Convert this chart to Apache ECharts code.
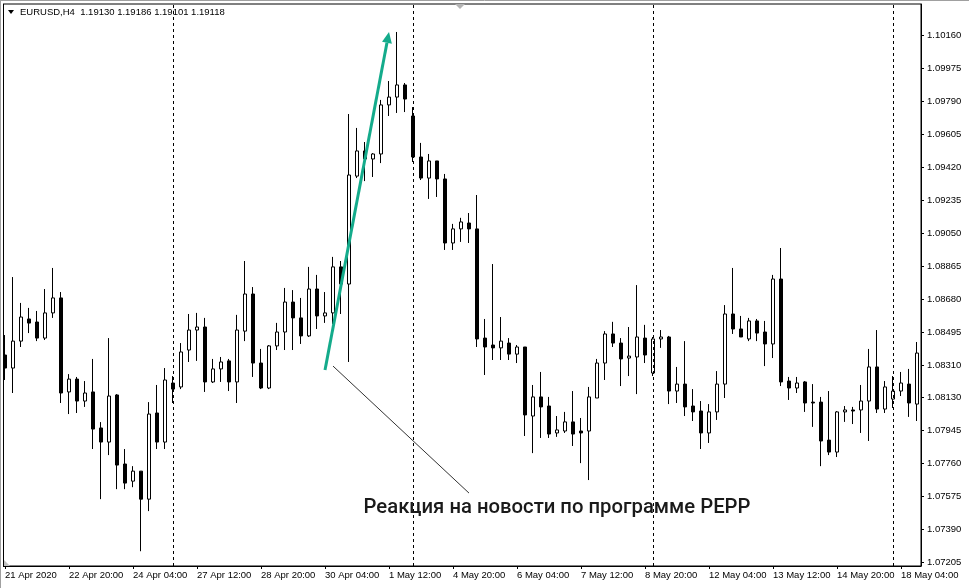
<!DOCTYPE html>
<html><head><meta charset="utf-8">
<script src="https://cdn.jsdelivr.net/npm/echarts@6/dist/echarts.min.js"></script>
<style>html,body{margin:0;padding:0;background:#fff;overflow:hidden}#c{width:969px;height:588px}</style>
</head><body><div id="c"></div>
<script>
// ---- data ----
const tradingDays = ['21 Apr','22 Apr','23 Apr','24 Apr','27 Apr','28 Apr','29 Apr','30 Apr','1 May','4 May','5 May','6 May','7 May','8 May','11 May','12 May','13 May','14 May','15 May','18 May'];
const sessionHours = ['00:00','04:00','08:00','12:00','16:00','20:00'];
const firstBarHour = 3;   // 21 Apr 12:00
const lastBarHour = 3;    // 18 May 12:00

const openPrices = [1.08366,1.08293,1.08444,1.08568,1.08551,1.08461,1.08602,1.08686,1.08159,1.08231,
1.08108,1.08159,1.07957,1.07878,1.08142,1.07755,1.07659,1.07715,1.07558,1.08041,
1.07878,1.08209,1.08187,1.08394,1.08506,1.08523,1.08215,1.08288,1.08333,1.08215,
1.08500,1.08708,1.08321,1.08181,1.08417,1.08495,1.08663,1.08574,1.08473,1.08736,
1.08585,1.08602,1.08860,1.08764,1.09369,1.09510,1.09465,1.09493,1.09768,1.09812,
1.09880,1.09706,1.09476,1.09358,1.09454,1.09353,1.08994,1.09073,1.09106,1.09073,
1.08461,1.08422,1.08406,1.08433,1.08371,1.08411,1.08024,1.08131,1.08080,1.07929,
1.07940,1.07991,1.07940,1.07940,1.08125,1.08321,1.08484,1.08433,1.08349,1.08355,
1.08461,1.08265,1.08456,1.08467,1.08164,1.08203,1.08080,1.08052,1.07929,1.08047,
1.08203,1.08596,1.08512,1.08456,1.08557,1.08495,1.08428,1.08792,1.08220,1.08181,
1.08215,1.08102,1.08102,1.07889,1.07822,1.08047,1.08058,1.08058,1.08108,1.08299,
1.08063,1.08119,1.08164,1.08203,1.08091];
const highPrices = [1.08478,1.08803,1.08658,1.08630,1.08613,1.08736,1.08854,1.08719,1.08259,1.08243,
1.08220,1.08344,1.07990,1.08461,1.08147,1.07839,1.07743,1.07715,1.08102,1.08198,
1.08293,1.08248,1.08433,1.08596,1.08602,1.08574,1.08344,1.08355,1.08344,1.08591,
1.08893,1.08747,1.08400,1.08422,1.08546,1.08742,1.08730,1.08686,1.08860,1.08815,
1.08719,1.08916,1.08893,1.09717,1.09639,1.09560,1.09498,1.09796,1.09902,1.10177,
1.09891,1.09756,1.09555,1.09493,1.09454,1.09381,1.09101,1.09135,1.09162,1.09263,
1.08568,1.08876,1.08579,1.08461,1.08422,1.08411,1.08198,1.08271,1.08131,1.08024,
1.08047,1.08164,1.08013,1.08187,1.08344,1.08500,1.08552,1.08461,1.08523,1.08758,
1.08535,1.08467,1.08506,1.08473,1.08299,1.08444,1.08175,1.08108,1.08091,1.08276,
1.08646,1.08854,1.08585,1.08574,1.08568,1.08557,1.08815,1.08966,1.08243,1.08243,
1.08220,1.08203,1.08131,1.08164,1.08052,1.08080,1.08075,1.08198,1.08400,1.08506,
1.08220,1.08248,1.08271,1.08288,1.08439];
const lowPrices = [1.08226,1.08153,1.08411,1.08489,1.08444,1.08450,1.08574,1.08097,1.08035,1.08041,
1.08075,1.07839,1.07558,1.07805,1.07614,1.07614,1.07625,1.07266,1.07491,1.07839,
1.07839,1.08097,1.08175,1.08327,1.08333,1.08159,1.08209,1.08215,1.08164,1.08097,
1.08444,1.08243,1.08175,1.08175,1.08394,1.08394,1.08394,1.08428,1.08467,1.08512,
1.08546,1.08540,1.08596,1.08327,1.09358,1.09341,1.09364,1.09442,1.09706,1.09723,
1.09728,1.09448,1.09347,1.09241,1.09252,1.08955,1.08955,1.09000,1.08994,1.08411,
1.08254,1.08338,1.08338,1.08338,1.08321,1.07912,1.07816,1.07901,1.07901,1.07907,
1.07929,1.07856,1.07760,1.07665,1.08125,1.08226,1.08411,1.08192,1.08248,1.08147,
1.08321,1.08248,1.08406,1.08091,1.08097,1.08024,1.07996,1.07839,1.07873,1.08002,
1.08125,1.08484,1.08467,1.08444,1.08444,1.08304,1.08349,1.08192,1.08114,1.08153,
1.08047,1.07963,1.07743,1.07805,1.07794,1.07991,1.07979,1.07929,1.07884,1.08041,
1.08041,1.08069,1.08136,1.08019,1.07996];
const closePrices = [1.08293,1.08444,1.08579,1.08545,1.08461,1.08602,1.08686,1.08153,1.08231,1.08108,
1.08153,1.07951,1.07878,1.08136,1.07749,1.07648,1.07715,1.07558,1.08035,1.07878,
1.08226,1.08175,1.08383,1.08506,1.08523,1.08215,1.08288,1.08327,1.08215,1.08506,
1.08708,1.08321,1.08181,1.08417,1.08495,1.08663,1.08574,1.08473,1.08736,1.08585,
1.08602,1.08860,1.08764,1.09375,1.09510,1.09465,1.09493,1.09768,1.09812,1.09880,
1.09801,1.09476,1.09358,1.09454,1.09353,1.08994,1.09073,1.09112,1.09073,1.08456,
1.08411,1.08406,1.08444,1.08371,1.08411,1.08030,1.08131,1.08075,1.07923,1.07946,
1.07991,1.07923,1.07929,1.08131,1.08321,1.08484,1.08433,1.08344,1.08360,1.08467,
1.08366,1.08456,1.08467,1.08164,1.08203,1.08075,1.08047,1.07929,1.08047,1.08203,
1.08596,1.08512,1.08467,1.08557,1.08489,1.08428,1.08792,1.08215,1.08181,1.08209,
1.08097,1.08097,1.07884,1.07822,1.08047,1.08058,1.08052,1.08108,1.08299,1.08063,
1.08187,1.08164,1.08209,1.08097,1.08377];

const yTickLabels = ['1.07205','1.07390','1.07575','1.07760','1.07945','1.08130','1.08310','1.08495','1.08680','1.08865','1.09050','1.09235','1.09420','1.09605','1.09790','1.09975','1.10160'];
const xTickLabels = ['21 Apr 2020','22 Apr 20:00','24 Apr 04:00','27 Apr 12:00','28 Apr 20:00','30 Apr 04:00','1 May 12:00','4 May 20:00','6 May 04:00','7 May 12:00','8 May 20:00','12 May 04:00','13 May 12:00','14 May 20:00','18 May 04:00'];
const weekSeparators = ['27 Apr 00:00','4 May 00:00','11 May 00:00','18 May 00:00'];
const headerText = 'EURUSD,H4  1.19130 1.19186 1.19101 1.19118';
const annotationText = 'Реакция на новости по программе PEPP';
// annotation anchors in data space: [bar index, price]
const arrowFrom = [40.4, 1.08282];
const arrowTo = [48.25, 1.10177];
const pointerFrom = [57.75, 1.07592];
const pointerTo = [41.0, 1.08304];
const textAnchor = [69.3, 1.07508];
const yMin = 1.071832, yMax = 1.103338;

// ---- build ----
const categories = [];
tradingDays.forEach((d, di) => {
  sessionHours.forEach((h, hi) => {
    if (di === 0 && hi < firstBarHour) return;
    if (di === tradingDays.length - 1 && hi > lastBarHour) return;
    categories.push(d + ' ' + h);
  });
});
const candleData = openPrices.map((o, i) => [o, closePrices[i], lowPrices[i], highPrices[i]]);

const FONT = 'Liberation Sans';
const chart = echarts.init(document.getElementById('c'), null, {renderer: 'canvas'});
chart.setOption({
  animation: false,
  backgroundColor: '#ffffff',
  grid: {left: 1, top: 4, width: 920, bottom: 22, show: true, borderColor: '#000', borderWidth: 1, backgroundColor: '#fff'},
  xAxis: {
    type: 'category', data: categories, boundaryGap: true, position: 'bottom',
    axisLine: {show: true, lineStyle: {color: '#000', width: 1}},
    axisTick: {show: true, interval: 7, alignWithLabel: true, length: 3, lineStyle: {color: '#000'}},
    axisLabel: {
      interval: 7, align: 'left', margin: 4, color: '#000', fontFamily: FONT, fontSize: 9.5,
      formatter: function (v) { const i = categories.indexOf(v); return (i % 8 === 0) ? (xTickLabels[i / 8] || '') : ''; }
    },
    splitLine: {show: false}
  },
  yAxis: {
    type: 'value', position: 'right', min: yMin, max: yMax, scale: true,
    axisLine: {show: true, lineStyle: {color: '#000', width: 1}},
    axisTick: {show: true, length: 3, inside: false, lineStyle: {color: '#000'}, customValues: yTickLabels.map(Number)},
    axisLabel: {show: true, margin: 6, color: '#000', fontFamily: FONT, fontSize: 9.5,
      customValues: yTickLabels.map(Number), formatter: v => v.toFixed(5)},
    splitLine: {show: false}
  },
  series: [{
    type: 'candlestick',
    data: candleData,
    barWidth: 4,
    itemStyle: {color: '#ffffff', color0: '#000000', borderColor: '#000000', borderColor0: '#000000', borderWidth: 1},
    markLine: {
      silent: true, symbol: ['none', 'none'], label: {show: false},
      lineStyle: {color: '#000', type: [3, 3], width: 1},
      emphasis: {disabled: true},
      data: weekSeparators.map(c => ({xAxis: c}))
    }
  }]
});

// annotations positioned through the chart's own scales
const P = v => chart.convertToPixel({gridIndex: 0}, v);
const a0 = P(arrowFrom), a1 = P(arrowTo);
const dx = a1[0] - a0[0], dy = a1[1] - a0[1], len = Math.hypot(dx, dy);
const ux = dx / len, uy = dy / len, headLen = 11, headHalf = 5;
const base = [a1[0] - ux * headLen, a1[1] - uy * headLen];
const p0 = P(pointerFrom), p1 = P(pointerTo);
const txt = P(textAnchor);
const teal = '#14ab8b';

chart.setOption({
  graphic: [
    // window frame pieces
    {type: 'rect', shape: {x: 0, y: 0, width: 3, height: 588}, style: {fill: '#fff'}, z: 100},
    {type: 'line', shape: {x1: 0.5, y1: 0, x2: 0.5, y2: 588}, style: {stroke: '#a0a0a0', lineWidth: 1}, z: 101},
    {type: 'line', shape: {x1: 3.5, y1: 4, x2: 3.5, y2: 566}, style: {stroke: '#000', lineWidth: 1}, z: 101},
    {type: 'line', shape: {x1: 0, y1: 0.5, x2: 969, y2: 0.5}, style: {stroke: '#a0a0a0', lineWidth: 1}, z: 101},
    {type: 'polygon', shape: {points: [[4, 560], [4, 566], [10, 566]]}, style: {fill: '#c0c0c0'}, z: 101},
    {type: 'polygon', shape: {points: [[455, 4], [465, 4], [460, 9]]}, style: {fill: '#b4b4b4'}, z: 101},
    // header
    {type: 'polygon', shape: {points: [[8, 10], [14, 10], [11, 14]]}, style: {fill: '#000'}, z: 101},
    {type: 'text', x: 20, y: 12, style: {text: headerText, fill: '#000', font: '9.5px "Liberation Sans"', textVerticalAlign: 'middle'}, z: 101},
    // arrow
    {type: 'line', shape: {x1: a0[0], y1: a0[1], x2: base[0], y2: base[1]}, style: {stroke: teal, lineWidth: 3}, z: 90},
    {type: 'polygon', shape: {points: [[a1[0], a1[1]], [base[0] - uy * headHalf, base[1] + ux * headHalf], [base[0] + uy * headHalf, base[1] - ux * headHalf]]}, style: {fill: teal}, z: 90},
    // pointer line
    {type: 'line', shape: {x1: p1[0], y1: p1[1], x2: p0[0], y2: p0[1]}, style: {stroke: '#333', lineWidth: 1}, z: 90},
    // annotation text
    {type: 'text', x: txt[0], y: txt[1], style: {text: annotationText, fill: '#1a1a1a', font: '500 20.3px Roboto', textAlign: 'center', textVerticalAlign: 'middle'}, z: 95}
  ]
});
</script>
</body></html>
